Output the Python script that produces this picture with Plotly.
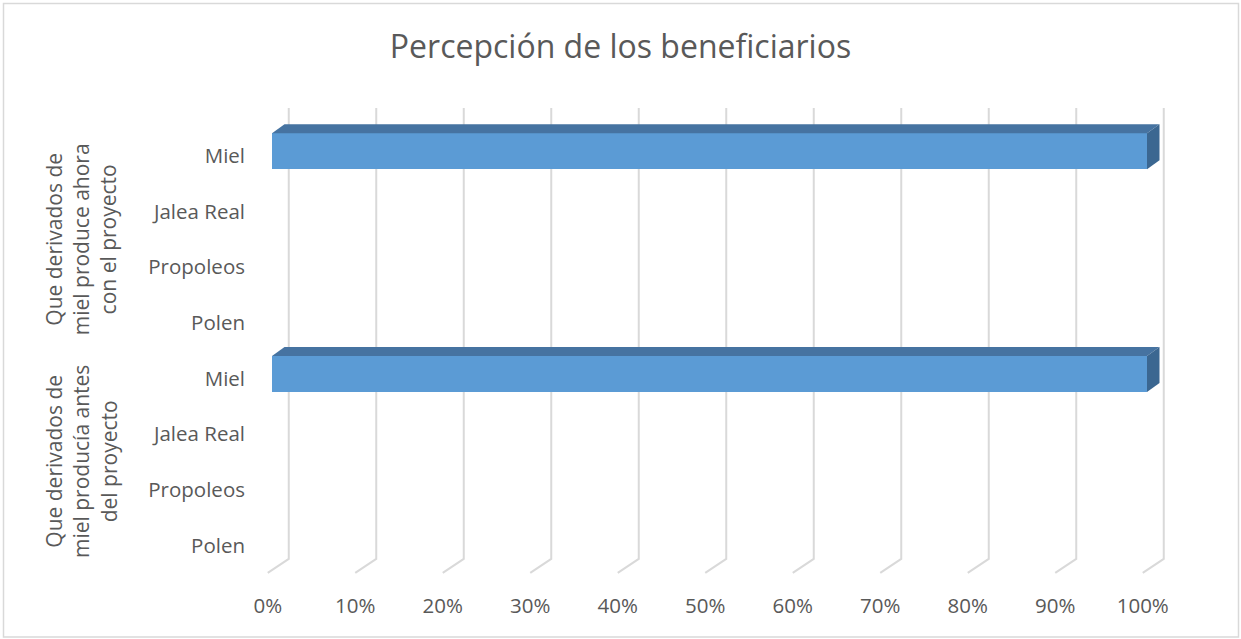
import plotly.graph_objects as go

# --- data -------------------------------------------------------------
products = ["Polen", "Propoleos", "Jalea Real", "Miel"]
groups = [
    "Que derivados de<br>miel producía antes<br>del proyecto",
    "Que derivados de<br>miel produce ahora<br>con el proyecto",
]
values_antes = [0.0, 0.0, 0.0, 1.0]
values_ahora = [0.0, 0.0, 0.0, 1.0]
x_ticks = [0.0, 0.1, 0.2, 0.3, 0.4, 0.5, 0.6, 0.7, 0.8, 0.9, 1.0]
x_tick_text = ["0%", "10%", "20%", "30%", "40%", "50%", "60%", "70%", "80%", "90%", "100%"]

# --- layout constants ---------------------------------------------------
W, H = 1241, 639
ML, MR, MT, MB = 252, 72, 100, 60
X_RANGE = [-0.018, 1.03]
Y_RANGE = [-0.6, 8.0]
px_x = (W - ML - MR) / (X_RANGE[1] - X_RANGE[0])
px_y = (H - MT - MB) / (Y_RANGE[1] - Y_RANGE[0])

# 3D projection: depth vector from floor front to back wall (data units)
WALL_DX = 21 / px_x
WALL_TOP = 7.856
WALL_BOTTOM = -0.24
FLOOR_FRONT = -0.49
# bar geometry
BAR_BASE = 4.25 / px_x
BAR_LIFT = 0.08
BAR_HALF = 0.323
BAR_DX = 12.5 / px_x
BAR_DY = 9 / px_y

FRONT = "#5b9bd5"
TOP = "#4673a1"
SIDE = "#3b6791"
GRID = "#d9d9d9"
TEXT = "#595959"
FONT = "Open Sans"

# categories, bottom to top
labels = products + products
values = values_antes + values_ahora
ypos = list(range(len(labels)))

fig = go.Figure()

# wall + floor gridlines
shapes = []
for v in x_ticks:
    xb = v + WALL_DX
    shapes.append(dict(
        type="path", xref="x", yref="y", layer="below",
        path=f"M {xb},{WALL_TOP} L {xb},{WALL_BOTTOM} L {v},{FLOOR_FRONT}",
        line=dict(color=GRID, width=2),
    ))

# front faces
fig.add_trace(go.Bar(
    y=[y + BAR_LIFT for y in ypos], x=values, base=BAR_BASE,
    orientation="h", width=2 * BAR_HALF,
    marker=dict(color=FRONT, line=dict(width=0)),
    hoverinfo="skip", showlegend=False,
))

# top and side faces
for y, v in zip(ypos, values):
    if v <= 0:
        continue
    x0, x1 = BAR_BASE, BAR_BASE + v
    yt, yb = y + BAR_LIFT + BAR_HALF, y + BAR_LIFT - BAR_HALF
    fig.add_trace(go.Scatter(
        x=[x0, x1, x1 + BAR_DX, x0 + BAR_DX, x0],
        y=[yt, yt, yt + BAR_DY, yt + BAR_DY, yt],
        fill="toself", fillcolor=TOP, mode="lines", line=dict(width=0, color=TOP),
        hoverinfo="skip", showlegend=False,
    ))
    fig.add_trace(go.Scatter(
        x=[x1, x1 + BAR_DX, x1 + BAR_DX, x1, x1],
        y=[yt, yt + BAR_DY, yb + BAR_DY, yb, yt],
        fill="toself", fillcolor=SIDE, mode="lines", line=dict(width=0, color=SIDE),
        hoverinfo="skip", showlegend=False,
    ))

# group labels
annotations = []
for gi, g in enumerate(groups):
    annotations.append(dict(
        text=g, xref="paper", yref="y",
        x=(81 - ML) / (W - ML - MR), y=gi * 4 + 1.5,
        textangle=-90, showarrow=False, xanchor="center", yanchor="middle",
        font=dict(family=FONT, size=21, color=TEXT), align="center",
    ))

# outer frame
pw, ph = W - ML - MR, H - MT - MB
shapes.append(dict(
    type="rect", xref="paper", yref="paper", layer="above",
    x0=(3.5 - ML) / pw, x1=(1238.5 - ML) / pw,
    y0=(H - MB - 637) / ph, y1=(H - MB - 3.5) / ph,
    line=dict(color=GRID, width=1.5), fillcolor="rgba(0,0,0,0)",
))

fig.update_layout(
    width=W, height=H,
    margin=dict(l=ML, r=MR, t=MT, b=MB),
    paper_bgcolor="white", plot_bgcolor="white",
    title=dict(text="Percepción de los beneficiarios", x=0.5, xanchor="center",
               y=1 - 47 / H, yanchor="middle",
               font=dict(family=FONT, size=32, color=TEXT)),
    xaxis=dict(range=X_RANGE, tickvals=x_ticks, ticktext=x_tick_text,
               showgrid=False, zeroline=False, showline=False, ticks="",
               ticklabelstandoff=12,
               tickfont=dict(family=FONT, size=20.5, color=TEXT)),
    yaxis=dict(range=Y_RANGE, tickvals=ypos, ticktext=labels,
               showgrid=False, zeroline=False, showline=False, ticks="",
               ticklabelstandoff=6,
               tickfont=dict(family=FONT, size=20.5, color=TEXT)),
    shapes=shapes, annotations=annotations,
    bargap=0, showlegend=False,
)

fig.write_html("out.html")
